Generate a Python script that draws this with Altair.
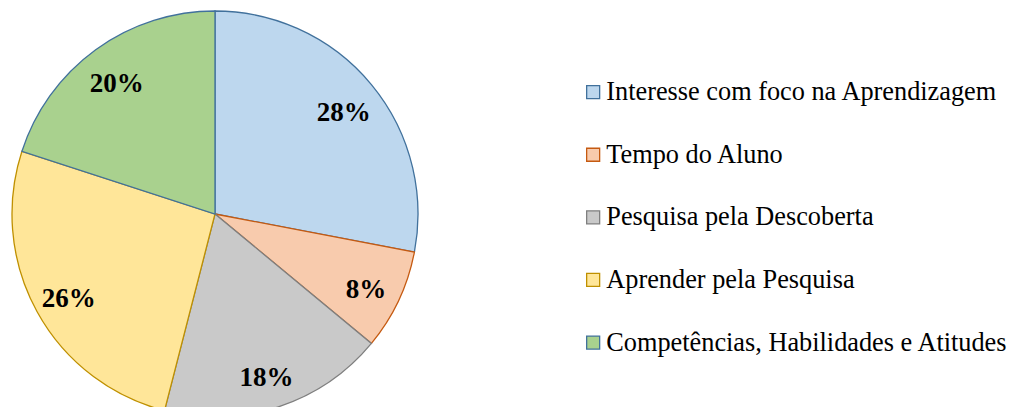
import altair as alt
import pandas as pd

categories = [
    "Interesse com foco na Aprendizagem",
    "Tempo do Aluno",
    "Pesquisa pela Descoberta",
    "Aprender pela Pesquisa",
    "Competências, Habilidades e Atitudes",
]
values = [28, 8, 18, 26, 20]
labels = ["28%", "8%", "18%", "26%", "20%"]
order = [0, 1, 2, 3, 4]

fills = ["#BDD7EE", "#F8CBAD", "#C9C9C9", "#FFE699", "#A9D18E"]
strokes = ["#41719C", "#C55A11", "#7F7F7F", "#BF9000", "#41719C"]

df = pd.DataFrame({"cat": categories, "value": values, "label": labels, "order": order})

CX, CY, R = 207, 206, 203

base = alt.Chart(df).encode(
    theta=alt.Theta("value:Q", stack=True),
    order=alt.Order("order:Q"),
)

arcs = base.mark_arc(radius=R, strokeWidth=1.3).encode(
    x=alt.value(CX),
    y=alt.value(CY),
    fill=alt.Fill("cat:N", scale=alt.Scale(domain=categories, range=fills), legend=alt.Legend(title=None)),
    stroke=alt.Stroke("cat:N", scale=alt.Scale(domain=categories, range=strokes), legend=alt.Legend(title=None)),
)

text = base.mark_text(
    radius=167, dy=5, font="Liberation Serif", fontSize=27, fontWeight="bold", color="black",
    align="center", baseline="middle",
).encode(
    x=alt.value(CX),
    y=alt.value(CY),
    text="label:N",
)

chart = (
    alt.layer(arcs, text)
    .properties(width=1001, height=399, padding=0, autosize=alt.AutoSizeParams(type="none"))
    .configure_view(stroke=None)
    .configure_legend(
        orient="none",
        legendX=572,
        legendY=71,
        padding=0,
        labelFont="Liberation Serif",
        labelFontSize=26.3,
        labelColor="black",
        labelLimit=600,
        labelOffset=0,
        symbolType="square",
        symbolSize=169,
        symbolStrokeWidth=1.3,
        rowPadding=35.6,
    )
)

chart.save("out.html", embed_options={"renderer": "svg", "actions": False})
